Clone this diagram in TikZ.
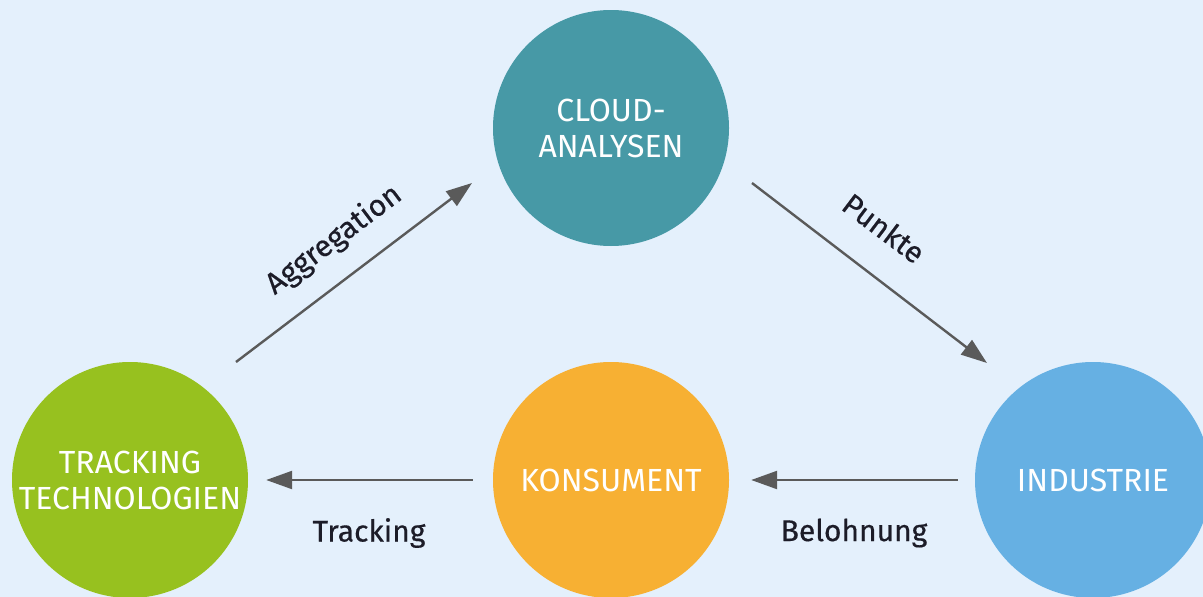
\documentclass[tikz,border=0pt]{standalone}
\usepackage{fontspec}
\setmainfont{Fira Sans}
\usetikzlibrary{arrows.meta}
\definecolor{bg}{HTML}{E4F0FC}
\definecolor{cteal}{HTML}{4799A6}
\definecolor{cgreen}{HTML}{97C11F}
\definecolor{corange}{HTML}{F7B033}
\definecolor{cblue}{HTML}{66B0E3}
\definecolor{arr}{HTML}{5A5A5A}
\definecolor{lbl}{HTML}{1C1C28}
\tikzset{
  bubble/.style={circle, minimum size=236pt, inner sep=0pt, text=white,
    align=center, font=\fontsize{32}{36}\selectfont},
  conn/.style={draw=arr, line width=2.4pt, -{Triangle[length=26pt,width=18pt]}},
  lab/.style={text=lbl, font=\fontsize{30}{34}\selectfont\addfontfeature{FakeBold=0.5}, inner sep=0pt}
}
\begin{document}
\begin{tikzpicture}[x=1pt,y=-1pt]
\fill[bg] (0,0) rectangle (1203,597);
\useasboundingbox (0,0) rectangle (1203,597);
\node[bubble, fill=cteal] (cloud) at (611,128) {CLOUD-\\ANALYSEN};
\node[bubble, fill=cgreen] (tra) at (130,480) {TRACKING\\TECHNOLOGIEN};
\node[bubble, fill=corange] (kon) at (611,480) {KONSUMENT};
\node[bubble, fill=cblue] (ind) at (1093,480) {INDUSTRIE};
\coordinate (a1) at (236,362);
\coordinate (a2) at (472,183);
\coordinate (p1) at (752,183);
\coordinate (p2) at (987,363);
\draw[conn] (a1) -- (a2);
\draw[conn] (p1) -- (p2);
\draw[conn, shorten <=20pt, shorten >=18pt] (kon.west) -- (tra.east);
\draw[conn, shorten <=17pt, shorten >=22pt] (ind.west) -- (kon.east);
\node[lab, rotate=37] (lagg) at (334,240) {Aggregation};
\node[lab, rotate=-37] (lpun) at (884,228) {Punkte};
\node[lab] (ltra) at (369,533) {Tracking};
\node[lab] (lbel) at (854,533) {Belohnung};
\end{tikzpicture}
\end{document}
